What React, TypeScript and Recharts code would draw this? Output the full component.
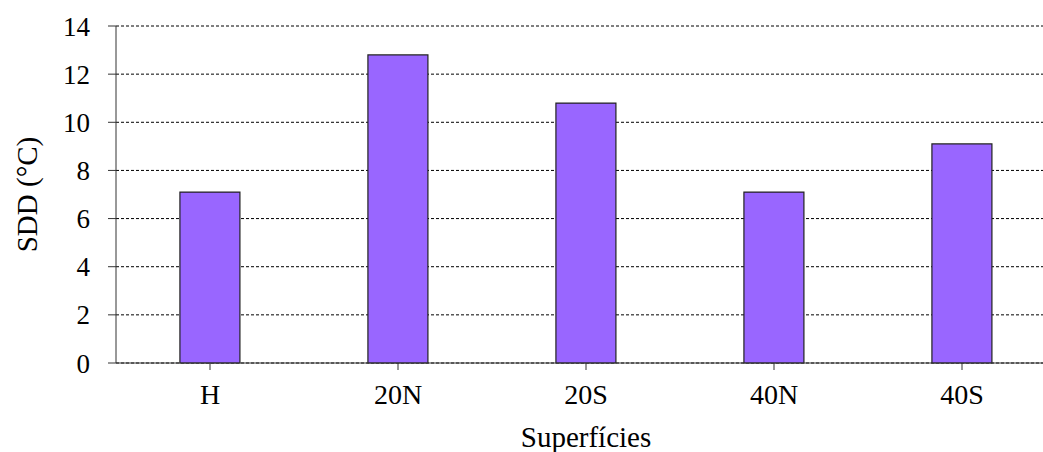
import React from 'react';
import { BarChart, Bar, XAxis, YAxis, CartesianGrid, Label } from 'recharts';

const superficies = ['H', '20N', '20S', '40N', '40S'];
const sddValues = [7.1, 12.8, 10.8, 7.1, 9.1];
const yTicks = [0, 2, 4, 6, 8, 10, 12, 14];

const data = superficies.map((name, i) => ({ name, sdd: sddValues[i] }));

const FONT = '"Liberation Serif", "Times New Roman", serif';

const YTitle = (props: any) => {
  const vb = props.viewBox || {};
  const cy = (vb.y ?? 26) + (vb.height ?? 337) / 2;
  return (
    <text
      transform={`translate(27, ${cy}) rotate(-90)`}
      textAnchor="middle"
      dominantBaseline="central"
      fill="#000"
      fontSize={29}
      fontFamily={FONT}
    >
      SDD (°C)
    </text>
  );
};

const App: React.FC = () => {
  return (
    <div
      style={{
        position: 'fixed',
        left: 0,
        top: 0,
        width: 1043,
        height: 452,
        overflow: 'hidden',
        background: '#fff',
        fontFamily: FONT,
      }}
    >
      <BarChart
        width={1056}
        height={452}
        data={data}
        margin={{ top: 26, right: 0, left: 0, bottom: 0 }}
        barCategoryGap="34%"
      >
        <CartesianGrid vertical={false} stroke="#000" strokeDasharray="3 2" />
        <XAxis
          dataKey="name"
          height={89}
          tickSize={7}
          tickMargin={14}
          stroke="#333"
          tick={{ fill: '#000', fontSize: 28, fontFamily: FONT }}
        >
          <Label
            value="Superfícies"
            position="insideBottom"
            offset={5}
            fill="#000"
            fontSize={29}
            fontFamily={FONT}
            style={{ fontFamily: FONT }}
          />
        </XAxis>
        <YAxis
          width={116}
          domain={[0, 14]}
          ticks={yTicks}
          interval={0}
          tickSize={8}
          tickMargin={18}
          stroke="#333"
          tick={{ fill: '#000', fontSize: 27, fontFamily: FONT }}
        >
          <Label content={<YTitle />} />
        </YAxis>
        <Bar
          dataKey="sdd"
          fill="#9966FF"
          stroke="#222"
          strokeWidth={1.2}
          isAnimationActive={false}
        />
      </BarChart>
    </div>
  );
};

export default App;
